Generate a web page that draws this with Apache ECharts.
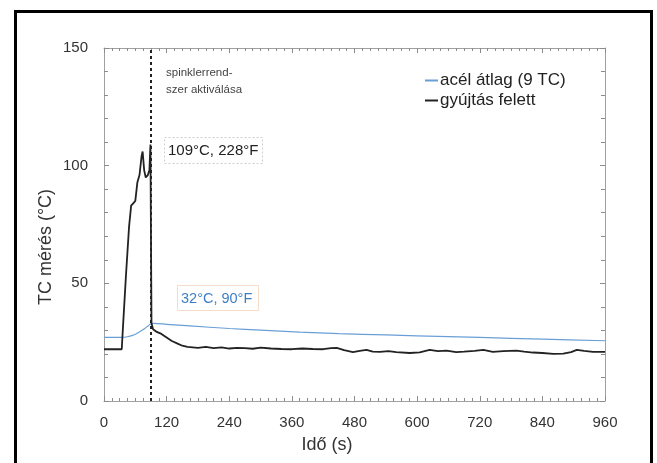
<!DOCTYPE html>
<html>
<head>
<meta charset="utf-8">
<script src="https://cdn.jsdelivr.net/npm/echarts@6/dist/echarts.min.js"></script>
<style>
html,body{margin:0;padding:0;background:#fff;}
#c{width:657px;height:463px;}
</style>
</head>
<body>
<div id="c"></div>
<script>
// ---- data ----
const xTicks = [0, 120, 240, 360, 480, 600, 720, 840, 960];
const yTicks = [0, 50, 100, 150];
const seriesNames = ['acél átlag (9 TC)', 'gyújtás felett'];

const steelTime = [0, 34, 45, 55, 62, 70, 78, 85, 90, 95, 120, 165, 240, 300, 375, 450, 540, 600, 720, 840, 960];
const steelTemp = [27, 27, 27.3, 27.9, 28.6, 29.6, 30.8, 32, 32.8, 33, 32.6, 31.9, 30.8, 30.1, 29.3, 28.6, 28.1, 27.7, 27, 26.3, 25.6];

const fireTime = [0, 34, 36, 42, 48, 52, 56, 60, 64, 68, 72, 74, 77, 80, 84, 87, 89, 90, 91, 94,
  100, 110, 120, 130, 140, 150, 160, 170, 180, 195, 210, 225, 240, 255, 270, 285, 300, 320, 340, 360,
  380, 400, 420, 435, 446, 460, 477, 490, 503, 515, 529, 545, 560, 586, 605, 624, 640, 656, 675, 690,
  710, 727, 745, 765, 790, 805, 822, 840, 861, 880, 895, 906, 920, 937, 960];
const fireTemp = [22, 22, 30, 53, 74, 83, 84, 85, 93, 96, 104, 106, 98, 95, 96, 98, 109, 70, 33, 30.5,
  29.5, 28.5, 27, 25.5, 24.5, 23.5, 23, 22.8, 22.6, 23, 22.5, 22.8, 22.3, 22.6, 22.5, 22.2, 22.7, 22.3, 22.1, 22.0,
  22.3, 22.1, 22.0, 22.5, 22.6, 21.6, 20.8, 21.3, 21.7, 21.0, 20.9, 21.2, 20.8, 20.4, 20.7, 21.7, 21.2, 21.4, 20.8, 21.0,
  21.3, 21.7, 20.9, 21.2, 21.4, 21.0, 20.6, 20.4, 20.0, 20.1, 20.8, 21.7, 21.3, 20.9, 20.9];

const sprinklerTime = 90;
const peakLabel = '109°C, 228°F';
const steelLabel = '32°C, 90°F';
const sprinklerText = ['spinklerrend-', 'szer aktiválása'];
const xName = 'Idő (s)';
const yName = 'TC mérés (°C)';

// ---- chart ----
const FONT = '"Liberation Sans", Arial, sans-serif';
const zip = (a, b) => a.map((t, i) => [t, b[i]]);
const chart = echarts.init(document.getElementById('c'), null, {renderer: 'canvas'});

const frameLine = {show: true, onZero: false, lineStyle: {color: '#a0a0a0', width: 1}};
const tickStyle = {color: '#8c8c8c', width: 1};

function xAx(pos, labels) {
  return {
    type: 'value', position: pos, min: xTicks[0], max: xTicks[xTicks.length - 1],
    interval: xTicks[1] - xTicks[0],
    axisLine: frameLine,
    axisTick: {show: true, inside: true, length: 5, lineStyle: tickStyle},
    minorTick: {show: true, splitNumber: 8, length: 3, lineStyle: tickStyle},
    splitLine: {show: false},
    axisLabel: {show: labels, fontSize: 15, color: '#333', fontFamily: FONT, margin: 14}
  };
}
function yAx(pos, labels) {
  return {
    type: 'value', position: pos, min: yTicks[0], max: yTicks[yTicks.length - 1],
    interval: yTicks[1] - yTicks[0],
    axisLine: frameLine,
    axisTick: {show: true, inside: true, length: 5, lineStyle: tickStyle},
    minorTick: {show: true, splitNumber: 5, length: 4, lineStyle: tickStyle},
    splitLine: {show: false},
    axisLabel: {show: labels, fontSize: 15, color: '#333', fontFamily: FONT, margin: 16}
  };
}

chart.setOption({
  animation: false,
  backgroundColor: '#ffffff',
  grid: {left: 104, right: 52, top: 48, bottom: 62},
  xAxis: [xAx('bottom', true), xAx('top', false)],
  yAxis: [yAx('left', true), yAx('right', false)],
  legend: {
    orient: 'vertical', left: 420, top: 67, itemGap: 3,
    icon: 'rect', itemWidth: 13, itemHeight: 2,
    textStyle: {fontSize: 17, color: '#222', fontFamily: FONT, padding: [0, 0, 0, -3]},
    data: seriesNames
  },
  series: [
    {
      name: seriesNames[0], type: 'line', xAxisIndex: 0, yAxisIndex: 0,
      data: zip(steelTime, steelTemp), showSymbol: false, smooth: 0.3,
      lineStyle: {color: '#6a9fd6', width: 1.2}, itemStyle: {color: '#6a9fd6'}, z: 3
    },
    {
      name: seriesNames[1], type: 'line', xAxisIndex: 0, yAxisIndex: 0,
      data: zip(fireTime, fireTemp), showSymbol: false,
      lineStyle: {color: '#222', width: 1.8}, itemStyle: {color: '#222'}, z: 4,
      markLine: {
        silent: true, symbol: ['none', 'none'], label: {show: false},
        lineStyle: {color: '#222', width: 2, type: [3, 3]},
        data: [{xAxis: sprinklerTime}]
      }
    }
  ],
  graphic: [
    {type: 'rect', shape: {x: 15.5, y: 11.5, width: 636, height: 480},
      style: {fill: 'none', stroke: '#000', lineWidth: 3}, silent: true},
    {type: 'text', x: 46, y: 247, rotation: Math.PI / 2,
      style: {text: yName, fontSize: 18, fill: '#333', fontFamily: FONT, textAlign: 'center', textVerticalAlign: 'middle'}},
    {type: 'text', x: 327, y: 445,
      style: {text: xName, fontSize: 18, fill: '#333', fontFamily: FONT, textAlign: 'center', textVerticalAlign: 'middle'}},
    {type: 'text', x: 166, y: 73,
      style: {text: sprinklerText[0], fontSize: 11.5, fill: '#444', fontFamily: FONT, textVerticalAlign: 'middle'}},
    {type: 'text', x: 166, y: 90,
      style: {text: sprinklerText[1], fontSize: 11.5, fill: '#444', fontFamily: FONT, textVerticalAlign: 'middle'}},
    {type: 'rect', shape: {x: 164.5, y: 137.5, width: 98, height: 26},
      style: {fill: '#fff', stroke: '#cfcfcf', lineWidth: 1, lineDash: [2, 2]}},
    {type: 'text', x: 168, y: 151,
      style: {text: peakLabel, fontSize: 15, fill: '#222', fontFamily: FONT, textVerticalAlign: 'middle'}},
    {type: 'rect', shape: {x: 177.5, y: 285.5, width: 81, height: 25},
      style: {fill: '#fff', stroke: '#f6dccb', lineWidth: 1}},
    {type: 'text', x: 181, y: 299,
      style: {text: steelLabel, fontSize: 14.5, fill: '#3d7fc4', fontFamily: FONT, textVerticalAlign: 'middle'}}
  ]
});
</script>
</body>
</html>
